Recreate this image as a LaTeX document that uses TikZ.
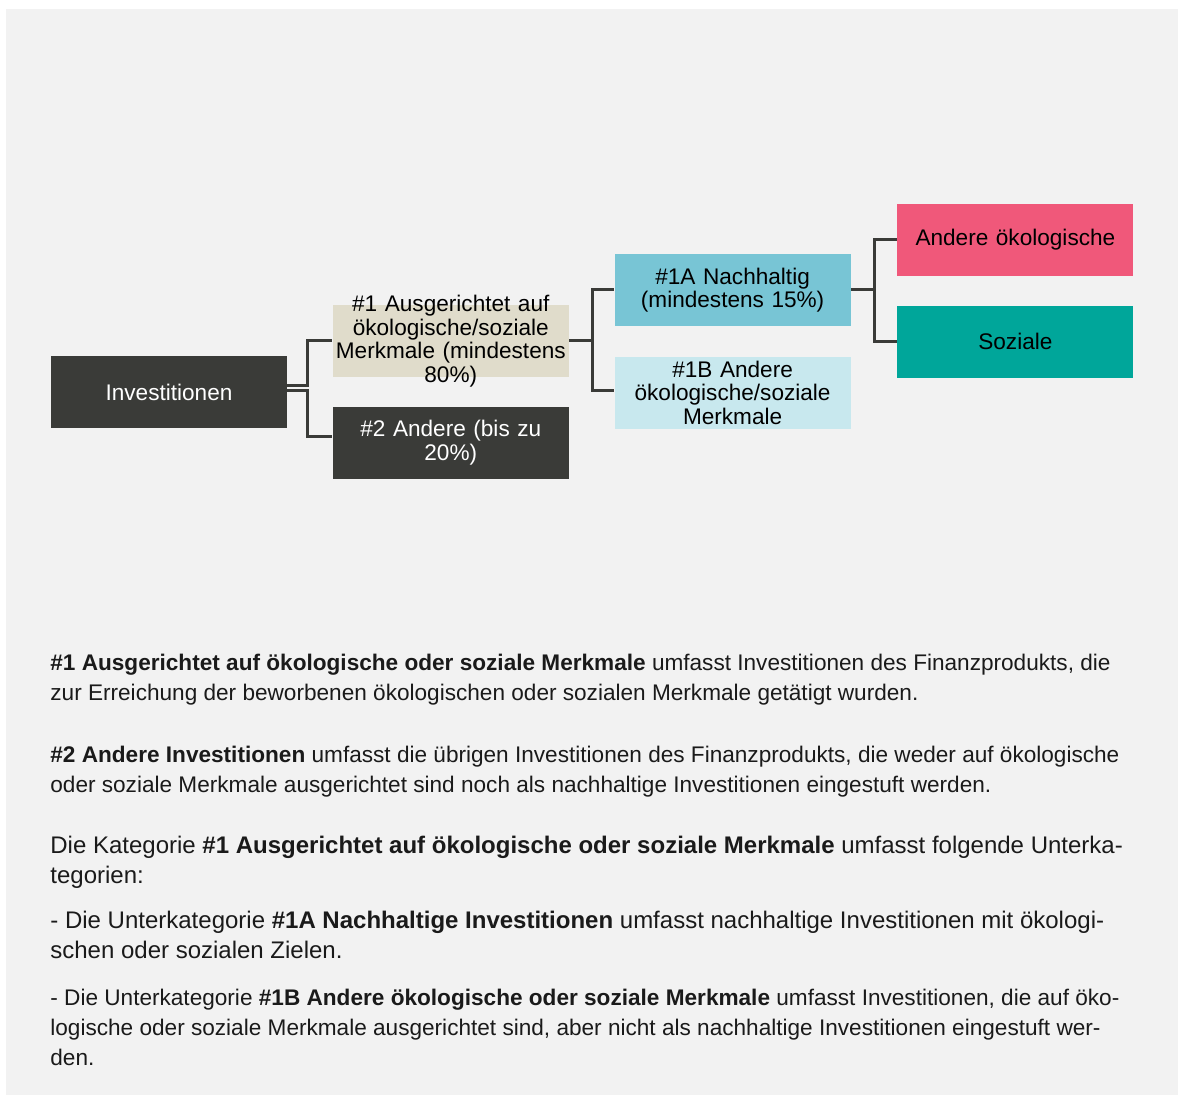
\documentclass[tikz,border=0pt]{standalone}
\usepackage{fontspec}
\setmainfont{Liberation Sans}
\usepackage{xcolor}
\usepackage{tikz}
\usetikzlibrary{positioning}
\definecolor{mybg}{RGB}{242,242,242}
\definecolor{mydark}{RGB}{58,59,56}
\definecolor{mytext}{RGB}{26,26,26}
\definecolor{mybeige}{RGB}{224,220,203}
\definecolor{myblue}{RGB}{120,197,213}
\definecolor{mylightblue}{RGB}{200,232,238}
\definecolor{mypink}{RGB}{240,88,122}
\definecolor{myteal}{RGB}{0,166,154}
\tikzset{
  block/.style={rectangle, draw=none, fill=mybeige, text=black,
    minimum width=118pt, minimum height=36pt, text width=116pt,
    inner xsep=1pt, inner ysep=-5pt, align=center,
    font=\fontsize{11.3}{11.75}\selectfont},
  darkblock/.style={block, fill=mydark, text=white},
  line/.style={line width=1.5pt, color=mydark},
  para/.style={anchor=base west, align=left, inner sep=0pt, text=mytext,
    font=\fontsize{11.3}{15}\selectfont},
  bigpara/.style={para, font=\fontsize{12}{15}\selectfont}
}
\begin{document}
\begin{tikzpicture}[x=0.5pt, y=-0.5pt, node distance=14.5pt and 22.5pt]
  \useasboundingbox (0,0) rectangle (1178,1095);
  \fill[mybg] (6,9) rectangle (1178,1095);

  % diagram
  \node[darkblock] (invest) at (169,392) {Investitionen};
  \node[block, right=of invest, yshift=25.5pt] (aligned) {\#1 Ausgerichtet auf\\ökologische/soziale\\Merkmale (mindestens\\80\%)};
  \node[darkblock, below=of aligned] (other) {\#2 Andere (bis zu\\20\%)};
  \node[block, fill=myblue, right=of aligned, yshift=25.5pt] (sust) {\#1A Nachhaltig\\(mindestens 15\%)};
  \node[block, fill=mylightblue, below=15pt of sust] (otherchar) {\#1B Andere\\ökologische/soziale\\Merkmale};
  \node[block, fill=mypink, right=23pt of sust, yshift=25pt] (env) {Andere ökologische};
  \node[block, fill=myteal, below=of env] (social) {Soziale};

  \draw[line] ([yshift=3pt]invest.east) -- ++(10pt,0) |- (aligned.west);
  \draw[line] ([yshift=0.5pt]invest.east) -- ++(10pt,0) |- ([yshift=3pt]other.west);
  \draw[line] (aligned.east) -- ++(11.5pt,0) |- (sust.west);
  \draw[line] (aligned.east) -- ++(11.5pt,0) |- ([yshift=1pt]otherchar.west);
  \draw[line] (sust.east) -- ++(11.5pt,0) |- (env.west);
  \draw[line] (sust.east) -- ++(11.5pt,0) |- (social.west);

  % explanations (anchored at the baseline of the last line)
  \node[para] (p1) at (50,701) {\textbf{\#1 Ausgerichtet auf ökologische oder soziale Merkmale} umfasst Investitionen des Finanzprodukts, die\\zur Erreichung der beworbenen ökologischen oder sozialen Merkmale getätigt wurden.};
  \node[para] (p2) at (50,792) {\textbf{\#2 Andere Investitionen} umfasst die übrigen Investitionen des Finanzprodukts, die weder auf ökologische\\oder soziale Merkmale ausgerichtet sind noch als nachhaltige Investitionen eingestuft werden.};
  \node[bigpara] (p3) at (50,883) {Die Kategorie \textbf{\#1 Ausgerichtet auf ökologische oder soziale Merkmale} umfasst folgende Unterka-\\tegorien:};
  \node[bigpara] (p4) at (50,958) {- Die Unterkategorie \textbf{\#1A Nachhaltige Investitionen} umfasst nachhaltige Investitionen mit ökologi-\\schen oder sozialen Zielen.};
  \node[para] (p5) at (50,1065) {- Die Unterkategorie \textbf{\#1B Andere ökologische oder soziale Merkmale} umfasst Investitionen, die auf öko-\\logische oder soziale Merkmale ausgerichtet sind, aber nicht als nachhaltige Investitionen eingestuft wer-\\den.};
\end{tikzpicture}
\end{document}
